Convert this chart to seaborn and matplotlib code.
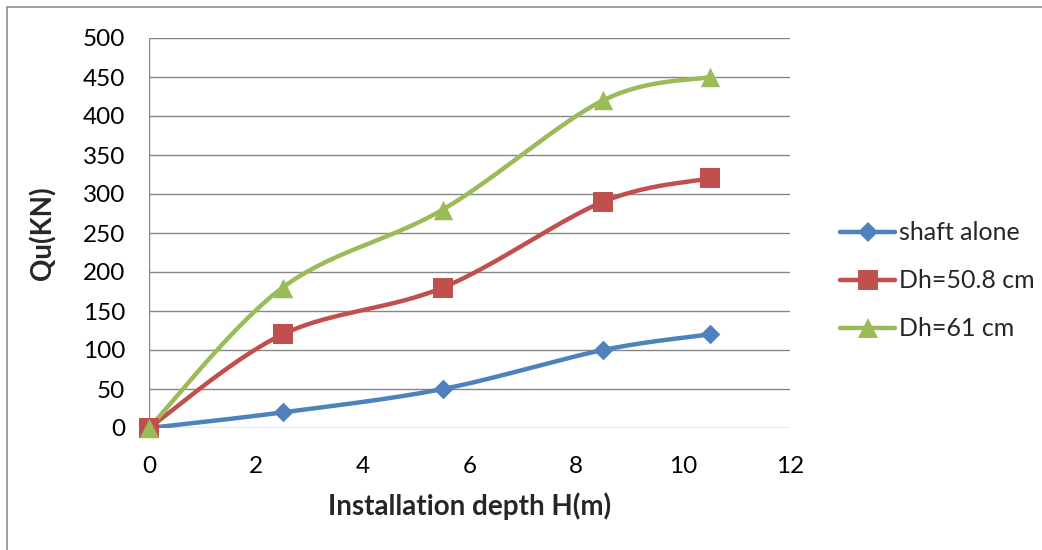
import numpy as np
import pandas as pd
import matplotlib
matplotlib.use("Agg")
import matplotlib.pyplot as plt
from matplotlib.lines import Line2D
from matplotlib.patches import Rectangle
import seaborn as sns

# Installation depth (m) and ultimate capacity (kN) for each configuration
depth = [0, 2.5, 5.5, 8.5, 10.5]
shaft_alone = [0, 20, 50, 100, 120]
dh_508 = [0, 120, 180, 290, 320]
dh_61 = [0, 180, 280, 420, 450]
series_names = ["shaft alone", "Dh=50.8 cm", "Dh=61 cm"]
x_ticks = [0, 2, 4, 6, 8, 10, 12]
y_ticks = [0, 50, 100, 150, 200, 250, 300, 350, 400, 450, 500]

colors = ["#4F81BD", "#C0504D", "#9BBB59"]
markers = ["D", "s", "^"]
msizes = [10, 14, 14]
line_w = 3.2

sns.set_theme(style="white")
plt.rcParams["font.family"] = ["Lato", "DejaVu Sans"]

fig = plt.figure(figsize=(10.42, 5.5), dpi=100)
ax = fig.add_axes([149 / 1042, 1 - 428 / 550, (790 - 149) / 1042, (428 - 38) / 550])

ax.set_xlim(0, 12)
ax.set_ylim(0, 500)

# pixel scale of the axes, used so the smoothing follows the drawn shape
sx = (790 - 149) / 12
sy = (428 - 38) / 500


def smooth(xs, ys, n=40):
    """Cubic Bezier smoothing through the points (Excel style)."""
    p = np.column_stack([np.asarray(xs, float) * sx, np.asarray(ys, float) * sy])
    out = [p[0]]
    k = len(p)
    for i in range(k - 1):
        p0 = p[i - 1] if i > 0 else p[i]
        p1 = p[i]
        p2 = p[i + 1]
        p3 = p[i + 2] if i + 2 < k else p[i + 1]
        c1 = p1 + (p2 - p0) / 6
        c2 = p2 - (p3 - p1) / 6
        t = np.linspace(0, 1, n)[1:, None]
        seg = ((1 - t) ** 3) * p1 + 3 * ((1 - t) ** 2) * t * c1 + 3 * (1 - t) * t ** 2 * c2 + t ** 3 * p2
        out.extend(seg)
    out = np.array(out)
    return out[:, 0] / sx, out[:, 1] / sy


for gy in y_ticks:
    ax.axhline(gy, color="#868686", lw=1.0, zorder=1)
ax.axvline(0, color="#868686", lw=1.0, zorder=1)

all_series = [shaft_alone, dh_508, dh_61]
for vals, name, c, m, ms in zip(all_series, series_names, colors, markers, msizes):
    cx, cy = smooth(depth, vals)
    curve = pd.DataFrame({"x": cx, "y": cy})
    sns.lineplot(data=curve, x="x", y="y", sort=False, estimator=None, color=c,
                 lw=line_w, ax=ax, zorder=3)
    pts = pd.DataFrame({"x": depth, "y": vals})
    sns.scatterplot(data=pts, x="x", y="y", marker=m, color=c, s=ms ** 2,
                    edgecolor=c, linewidth=0, ax=ax, zorder=4, clip_on=False)

for s in ax.spines.values():
    s.set_visible(False)

ax.set_xticks(x_ticks)
ax.set_yticks(y_ticks)
ax.tick_params(axis="both", length=0, labelsize=17.5, colors="black")
ax.tick_params(axis="x", pad=20)
ax.tick_params(axis="y", pad=17)
ax.set_xlabel("Installation depth H(m)", fontsize=20, fontweight="bold", labelpad=11)
ax.set_ylabel("Qu(KN)", fontsize=20, fontweight="bold", labelpad=19)

handles = [Line2D([0], [0], color=c, lw=line_w, marker=m, markersize=ms, markeredgewidth=0)
           for c, m, ms in zip(colors, markers, msizes)]
fig.legend(handles, series_names, loc="center left", bbox_to_anchor=(830 / 1042, 1 - 281 / 550),
           frameon=False, fontsize=18, handlelength=2.2, handletextpad=0.15,
           labelspacing=1.0, borderaxespad=0)

# outer chart border
fig.patches.append(Rectangle((7 / 1042, -0.05), 1.2, 1 - 7 / 550 + 0.05, transform=fig.transFigure,
                             fill=False, edgecolor="#8c8c8c", lw=1.2))

fig.savefig("out.png", dpi=100)
